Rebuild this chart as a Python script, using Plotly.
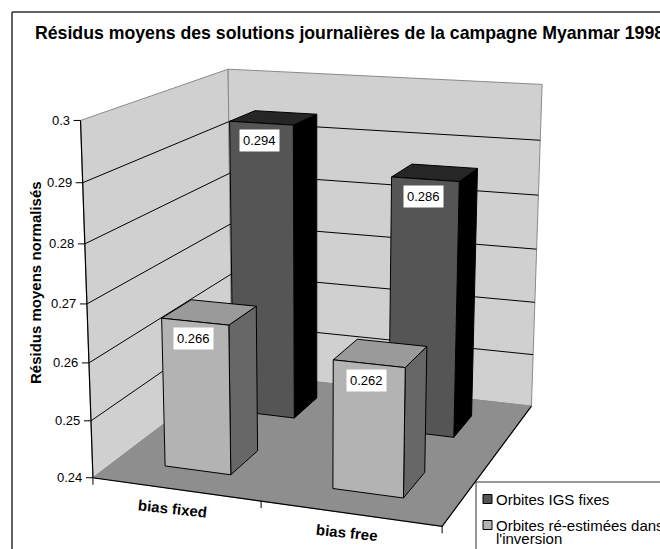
import numpy as np
import plotly.graph_objects as go

# ---- data -------------------------------------------------------------
categories = ["bias fixed", "bias free"]
series_names = ["Orbites IGS fixes", "Orbites ré-estimées dans", "l'inversion"]
igs_fixes = [0.294, 0.286]        # back row
re_estimees = [0.266, 0.262]      # front row
value_ticks = [0.24, 0.25, 0.26, 0.27, 0.28, 0.29, 0.30]
tick_labels = ["0.24", "0.25", "0.26", "0.27", "0.28", "0.29", "0.3"]
VMIN, VMAX = 0.24, 0.30

FONT = "Arial, Liberation Sans, sans-serif"
W, H = 660, 549

# ---- perspective camera of the 3-D plot box ----------------------------
# world: x = category axis (0..1), y = depth (0 front .. 1 back), z = value
# screen anchors of the box corners / wall ticks
box_anchor = [
    ((0, 0, 0.30), (80, 120)), ((0, 0, 0.29), (82, 183)), ((0, 0, 0.28), (84, 244)),
    ((0, 0, 0.27), (88, 304)), ((0, 0, 0.26), (90, 363)), ((0, 0, 0.25), (91, 421)),
    ((0, 0, 0.24), (93, 477)),
    ((0, 1, 0.30), (229, 69)), ((0, 1, 0.24), (231, 373)),
    ((1, 1, 0.30), (542, 85)), ((1, 1, 0.29), (540, 140)), ((1, 1, 0.25), (533, 354)),
    ((1, 1, 0.24), (532, 406)),
    ((0.5, 0, 0.24), (261, 501)), ((1, 0, 0.24), (442, 527)),
]


def zn(v):
    return (v - VMIN) / (VMAX - VMIN)


def fit_camera(anchors):
    rows = []
    for (X, Y, V), (u, v) in anchors:
        Z = zn(V)
        u, v = u / 100.0, v / 100.0
        rows.append([X, Y, Z, 1, 0, 0, 0, 0, -u * X, -u * Y, -u * Z, -u])
        rows.append([0, 0, 0, 0, X, Y, Z, 1, -v * X, -v * Y, -v * Z, -v])
    _, _, vt = np.linalg.svd(np.array(rows, float))
    return vt[-1].reshape(3, 4)


P = fit_camera(box_anchor)


def proj(X, Y, V):
    p = P @ np.array([X, Y, zn(V), 1.0])
    return 100 * p[0] / p[2], 100 * p[1] / p[2]


fig = go.Figure()


def poly(pts, fill=None, line="black", width=1, closed=True):
    xy = [proj(*p) for p in pts]
    if closed:
        xy.append(xy[0])
    xs, ys = zip(*xy)
    fig.add_trace(go.Scatter(
        x=xs, y=ys, mode="lines",
        fill="toself" if fill else None, fillcolor=fill,
        line=dict(color=line, width=width),
        hoverinfo="skip", showlegend=False))


def seg(xs, ys, color="black", width=1):
    fig.add_trace(go.Scatter(x=xs, y=ys, mode="lines",
                             line=dict(color=color, width=width),
                             hoverinfo="skip", showlegend=False))


# chart area border
seg([12, 700, 700, 12, 12], [12, 12, 600, 600, 12], color="#303030", width=1.5)

# walls and floor
WALL, FLOOR, EDGE = "#D0D0D0", "#8E8E8E", "#8A8A8A"
poly([(0, 0, VMIN), (0, 1, VMIN), (0, 1, VMAX), (0, 0, VMAX)], fill=WALL, line=EDGE)
poly([(0, 1, VMIN), (1, 1, VMIN), (1, 1, VMAX), (0, 1, VMAX)], fill=WALL, line=EDGE)
poly([(0, 0, VMIN), (1, 0, VMIN), (1, 1, VMIN), (0, 1, VMIN)], fill=FLOOR, line=FLOOR)

# major gridlines on both walls
for v in value_ticks[1:-1]:
    poly([(0, 0, v), (0, 1, v), (1, 1, v)], line="black", width=1, closed=False)

# dark edges of the box
poly([(0, 0, VMAX), (0, 0, VMIN), (1, 0, VMIN), (1, 1, VMIN)], line="black", width=1.2, closed=False)

# value axis ticks and labels
for v, lab in zip(value_ticks, tick_labels):
    x, y = proj(0, 0, v)
    seg([x - 7, x], [y, y])
    fig.add_annotation(x=x - 9, y=y, text=lab, showarrow=False, xanchor="right",
                       yanchor="middle", font=dict(family=FONT, size=13, color="black"))

# category ticks and labels
for cx in [0, 0.5, 1]:
    x, y = proj(cx, 0, VMIN)
    seg([x, x], [y, y + 7])
for i, cat in enumerate(categories):
    x, y = proj(0.25 + 0.5 * i, 0, VMIN)
    fig.add_annotation(x=x, y=y, xshift=-3, yshift=-19, text=f"<b>{cat}</b>", showarrow=False,
                       textangle=6, font=dict(family=FONT, size=15, color="black"))

# ---- bars ---------------------------------------------------------------
HALF = 0.1
rows = [
    (0.75, igs_fixes, ("#555555", "#262626", "#000000")),
    (0.25, re_estimees, ("#B3B3B3", "#9A9A9A", "#676767")),
]
for yc, vals, (c_front, c_top, c_side) in rows:
    y0, y1 = yc - HALF, yc + HALF
    for i, val in enumerate(vals):
        xc = 0.25 + 0.5 * i
        x0, x1 = xc - HALF, xc + HALF
        poly([(x1, y0, VMIN), (x1, y1, VMIN), (x1, y1, val), (x1, y0, val)], fill=c_side)
        poly([(x0, y0, val), (x1, y0, val), (x1, y1, val), (x0, y1, val)], fill=c_top)
        poly([(x0, y0, VMIN), (x1, y0, VMIN), (x1, y0, val), (x0, y0, val)], fill=c_front)
        lx, ly = proj(xc, y0, val)
        fig.add_annotation(x=lx, y=ly, xshift=-2, yshift=-17, text=f"{val:.3f}", showarrow=False,
                           bgcolor="white", borderpad=3,
                           font=dict(family=FONT, size=13, color="black"))

# ---- legend -------------------------------------------------------------
seg([700, 476, 476, 700], [482, 482, 560, 560], color="#303030", width=1)
fig.add_trace(go.Scatter(x=[487.5, 487.5], y=[499, 525], mode="markers",
                         marker=dict(symbol="square", size=9,
                                     color=["#555555", "#B3B3B3"],
                                     line=dict(color="black", width=1)),
                         hoverinfo="skip", showlegend=False))
for txt, yy in zip(series_names, [499, 525, 538]):
    fig.add_annotation(x=494, y=yy, text=txt, showarrow=False, xanchor="left",
                       yanchor="middle", font=dict(family=FONT, size=15, color="black"))

# titles
fig.add_annotation(x=33, y=33, text="<b>Résidus moyens des solutions journalières de la campagne Myanmar 1998</b>",
                   showarrow=False, xanchor="left", yanchor="middle",
                   font=dict(family=FONT, size=17.7, color="black"))
fig.add_annotation(x=35, y=283, text="<b>Résidus moyens normalisés</b>", showarrow=False,
                   textangle=-90, font=dict(family=FONT, size=15, color="black"))

fig.update_layout(
    width=W, height=H, margin=dict(l=0, r=0, t=0, b=0),
    paper_bgcolor="white", plot_bgcolor="white",
    xaxis=dict(range=[0, W], visible=False, fixedrange=True),
    yaxis=dict(range=[H, 0], visible=False, fixedrange=True),
    showlegend=False,
)

fig.write_html("out.html")
